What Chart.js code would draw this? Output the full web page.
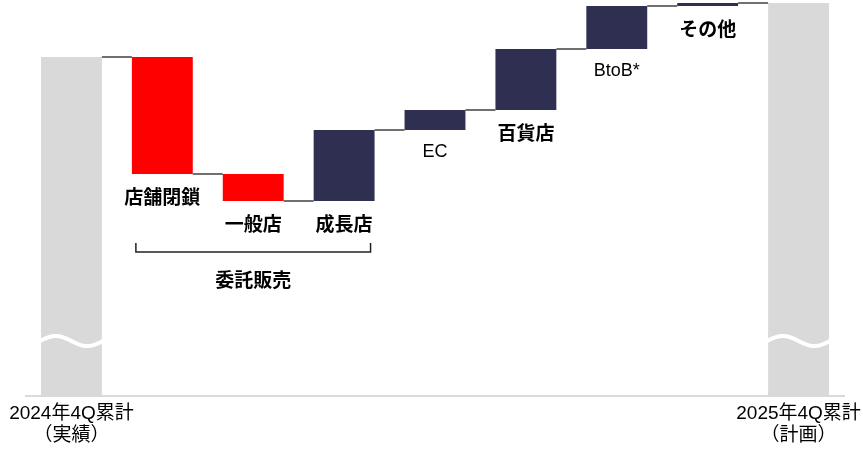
<!DOCTYPE html>
<html lang="ja">
<head>
<meta charset="UTF-8">
<title>ウォーターフォール</title>
<script src="https://cdn.jsdelivr.net/npm/chart.js@4.4.1/dist/chart.umd.min.js"></script>
<style>
  html, body { margin: 0; padding: 0; background: #fff; }
  #wrap { width: 863px; height: 450px; }
</style>
</head>
<body>
<div id="wrap"><canvas id="waterfall"></canvas></div>
<script>
// data (relative units, axis is broken so the totals are not to scale)
const categories = ['2024年4Q累計\n（実績）', '店舗閉鎖', '一般店', '成長店', 'EC', '百貨店', 'BtoB*', 'その他', '2025年4Q累計\n（計画）'];
const startTotal = 339;
const changes = [-117, -27, 71, 20, 61, 43, 3];
const groupLabel = '委託販売';
const groupFrom = 1;
const groupTo = 3;

const RED = '#ff0000';
const NAVY = '#2f2f52';
const GREY = '#d9d9d9';

// build floating bars from the running total
const bars = [[0, startTotal]];
const colors = [GREY];
let running = startTotal;
changes.forEach(c => {
    bars.push([running, running + c]);
    colors.push(c < 0 ? RED : NAVY);
    running += c;
});
bars.push([0, running]);
colors.push(GREY);

const extras = {
    id: 'extras',
    afterDatasetsDraw(chart) {
        const ctx = chart.ctx;
        const meta = chart.getDatasetMeta(0);
        const y = chart.scales.y;
        const els = meta.data;

        // connectors
        ctx.save();
        ctx.strokeStyle = '#404040';
        ctx.lineWidth = 1.5;
        for (let i = 0; i < els.length - 1; i++) {
            const a = els[i], b = els[i + 1];
            const level = y.getPixelForValue(bars[i][1]);
            ctx.beginPath();
            ctx.moveTo(a.x + a.width / 2, level);
            ctx.lineTo(b.x - b.width / 2, level);
            ctx.stroke();
        }
        ctx.restore();

        // axis break waves on the two totals
        ctx.save();
        ctx.strokeStyle = '#ffffff';
        ctx.lineWidth = 4;
        const waveY = y.getPixelForValue(55);
        [els[0], els[els.length - 1]].forEach(el => {
            const x0 = el.x - el.width / 2 - 1;
            const w = el.width + 2;
            ctx.beginPath();
            for (let t = 0; t <= 1.0001; t += 0.02) {
                const px = x0 + t * w;
                const py = waveY - 5 * Math.sin(2 * Math.PI * t);
                if (t === 0) ctx.moveTo(px, py); else ctx.lineTo(px, py);
            }
            ctx.stroke();
        });
        ctx.restore();

        // labels under each change bar
        ctx.save();
        ctx.fillStyle = '#000';
        ctx.textAlign = 'center';
        ctx.textBaseline = 'middle';
        for (let i = 1; i < els.length - 1; i++) {
            const el = els[i];
            const bottom = y.getPixelForValue(Math.min(bars[i][0], bars[i][1]));
            const name = categories[i];
            const jp = /[^\x00-\x7F]/.test(name);
            ctx.font = jp ? 'bold 19px "Noto Sans CJK JP"' : '18px "Liberation Sans", Arial';
            ctx.fillText(name, el.x, bottom + (jp ? 23 : 22));
        }

        // bracket for the consignment group
        const g0 = els[groupFrom], g1 = els[groupTo];
        const bx0 = g0.x - g0.width / 2 + 4;
        const bx1 = g1.x + g1.width / 2 - 4;
        const by = 252;
        ctx.strokeStyle = '#222';
        ctx.lineWidth = 1.5;
        ctx.beginPath();
        ctx.moveTo(bx0, by - 9);
        ctx.lineTo(bx0, by);
        ctx.lineTo(bx1, by);
        ctx.lineTo(bx1, by - 9);
        ctx.stroke();
        ctx.font = 'bold 19px "Noto Sans CJK JP"';
        ctx.fillText(groupLabel, (bx0 + bx1) / 2, 280);
        ctx.restore();
    }
};

new Chart(document.getElementById('waterfall'), {
    type: 'bar',
    data: {
        labels: categories.map((c, i) => (i === 0 || i === categories.length - 1) ? c.split('\n') : ''),
        datasets: [{
            data: bars,
            backgroundColor: colors,
            borderWidth: 0,
            barPercentage: 0.67,
            categoryPercentage: 1
        }]
    },
    options: {
        responsive: true,
        maintainAspectRatio: false,
        animation: false,
        layout: { padding: { left: 26, right: 19, top: 0, bottom: 0 } },
        plugins: {
            legend: { display: false },
            tooltip: { enabled: false }
        },
        scales: {
            x: {
                grid: { display: false, drawTicks: false },
                border: { display: true, color: GREY, width: 2 },
                ticks: {
                    autoSkip: false,
                    maxRotation: 0,
                    padding: 7,
                    color: '#000',
                    font: { family: '"Liberation Sans", "Noto Sans CJK JP"', size: 19, lineHeight: 1.15 }
                },
                afterFit(scale) {
                    scale.height = 54;
                    scale.paddingLeft = 0;
                    scale.paddingRight = 0;
                }
            },
            y: {
                display: false,
                min: 0,
                max: 396
            }
        }
    },
    plugins: [extras]
});
</script>
</body>
</html>
